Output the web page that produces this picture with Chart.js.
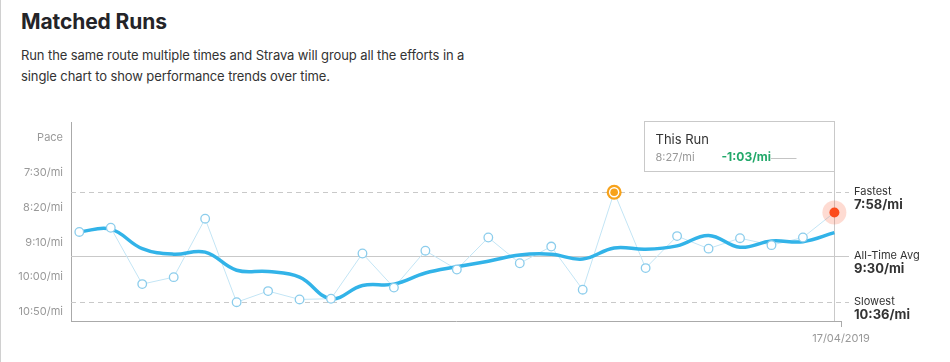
<!DOCTYPE html>
<html>
<head>
<meta charset="utf-8">
<script src="https://cdn.jsdelivr.net/npm/chart.js@4"></script>
<style>
  html, body { margin: 0; padding: 0; background: #fff; }
  body { width: 950px; height: 362px; position: relative; overflow: hidden; border-left: 1px solid #d0d0d0; box-sizing: border-box; font-family: Inter, "Noto Sans", sans-serif; }
  h1 { position: absolute; left: 20px; top: 9px; margin: 0; font-size: 21px; font-weight: 700; color: #242428; letter-spacing: -0.1px; }
  p.desc { position: absolute; left: 20px; top: 45px; margin: 0; font-size: 13px; letter-spacing: -0.1px; line-height: 20.5px; color: #333; }
  canvas { position: absolute; left: 0; top: 0; }
</style>
</head>
<body>
<h1>Matched Runs</h1>
<p class="desc">Run the same route multiple times and Strava will group all the efforts in a<br>single chart to show performance trends over time.</p>
<canvas id="myChart" width="950" height="362"></canvas>
<script>
// pace per run, seconds per mile (oldest -> newest)
const paces = [535, 529, 610, 600, 516, 636, 620, 632, 631, 566, 615, 562, 589, 543, 580, 556, 618, 478, 587, 541, 559, 544, 554, 543, 507];
// smoothed trend line
const trend = [535, 531, 559, 567, 564, 590, 592, 600, 631, 612, 610, 594, 585, 577, 568, 567, 574, 558, 560, 555, 540, 557, 548, 549, 536];
const yTicks = [400, 450, 500, 550, 600, 650];
const lastDate = '17/04/2019';
const avgPace = 570;
const fastest = 478;
const slowest = 636;
const thisRunIndex = 24;
const fastestIndex = 17;

function fmt(s) {
  s = Math.round(Math.abs(s));
  const m = Math.floor(s / 60);
  const r = s % 60;
  return m + ':' + (r < 10 ? '0' : '') + r + '/mi';
}

const xy = arr => arr.map((v, i) => ({x: i, y: v}));

// reference lines, labels, special markers, "This Run" box
const overlay = {
  id: 'overlay',
  beforeDatasetsDraw(chart) {
    const {ctx, chartArea, scales} = chart;
    const y = scales.y;
    const lineEnd = chartArea.right + 8;
    ctx.save();
    ctx.lineWidth = 1;
    ctx.strokeStyle = '#c9c9c9';
    [[fastest, true], [avgPace, false], [slowest, true]].forEach(([v, dashed]) => {
      const py = Math.round(y.getPixelForValue(v)) + 0.5;
      ctx.setLineDash(dashed ? [5, 4] : []);
      ctx.beginPath();
      ctx.moveTo(chartArea.left, py);
      ctx.lineTo(lineEnd, py);
      ctx.stroke();
    });
    ctx.setLineDash([]);
    // vertical line from box to axis at this run
    const p = chart.getDatasetMeta(0).data[thisRunIndex];
    const vx = Math.round(p.x) + 0.5;
    ctx.beginPath();
    ctx.moveTo(vx, chartArea.top);
    ctx.lineTo(vx, chartArea.bottom);
    ctx.stroke();

    // right side labels
    ctx.textAlign = 'left';
    ctx.textBaseline = 'middle';
    [['Fastest', fastest], ['All-Time Avg', avgPace], ['Slowest', slowest]].forEach(([name, v]) => {
      const py = y.getPixelForValue(v);
      ctx.fillStyle = '#333';
      ctx.font = '11px Inter, "Noto Sans", sans-serif';
      ctx.fillText(name, lineEnd + 5, py - 1);
      ctx.font = 'bold 13px Inter, "Noto Sans", sans-serif';
      ctx.fillText(fmt(v), lineEnd + 5, py + 13);
    });
    ctx.restore();
  },
  afterDatasetsDraw(chart) {
    const {ctx, chartArea} = chart;
    const meta = chart.getDatasetMeta(0);
    ctx.save();
    // fastest marker
    const f = meta.data[fastestIndex];
    ctx.fillStyle = '#f7a21b';
    ctx.beginPath(); ctx.arc(f.x, f.y, 7.5, 0, Math.PI * 2); ctx.fill();
    ctx.fillStyle = '#fff';
    ctx.beginPath(); ctx.arc(f.x, f.y, 5.2, 0, Math.PI * 2); ctx.fill();
    ctx.fillStyle = '#f7a21b';
    ctx.beginPath(); ctx.arc(f.x, f.y, 3.8, 0, Math.PI * 2); ctx.fill();
    // this run marker
    const r = meta.data[thisRunIndex];
    ctx.fillStyle = 'rgba(252, 90, 50, 0.22)';
    ctx.beginPath(); ctx.arc(r.x, r.y, 12, 0, Math.PI * 2); ctx.fill();
    ctx.fillStyle = '#fc4c1c';
    ctx.beginPath(); ctx.arc(r.x, r.y, 5, 0, Math.PI * 2); ctx.fill();

    // "This Run" box
    const bx = Math.round(r.x) + 0.5, bw = 190, bh = 50;
    const left = bx - bw, top = chartArea.top - 0.5;
    ctx.fillStyle = '#fff';
    ctx.fillRect(left, top, bw, bh);
    ctx.strokeStyle = '#c9c9c9';
    ctx.lineWidth = 1;
    ctx.strokeRect(left, top, bw, bh);
    ctx.textAlign = 'left';
    ctx.textBaseline = 'middle';
    ctx.fillStyle = '#333';
    ctx.font = '13px Inter, "Noto Sans", sans-serif';
    ctx.fillText('This Run', left + 11, top + 19);
    ctx.fillStyle = '#999';
    ctx.font = '11px Inter, "Noto Sans", sans-serif';
    ctx.fillText(fmt(paces[thisRunIndex]), left + 11, top + 36);
    const diff = paces[thisRunIndex] - avgPace;
    const diffTxt = (diff < 0 ? '-' : '+') + fmt(diff);
    ctx.fillStyle = '#22a86a';
    ctx.font = 'bold 12px Inter, "Noto Sans", sans-serif';
    ctx.fillText(diffTxt, left + 77, top + 36);
    const tw = ctx.measureText(diffTxt).width;
    ctx.strokeStyle = '#c4c4c4';
    ctx.beginPath();
    ctx.moveTo(left + 77 + tw, Math.round(top + 36) + 0.5);
    ctx.lineTo(left + 152, Math.round(top + 36) + 0.5);
    ctx.stroke();
    ctx.restore();
  }
};

const specialIdx = [fastestIndex, thisRunIndex];

const data = {
  datasets: [
    {
      label: 'Runs',
      data: xy(paces),
      showLine: false,
      pointRadius: paces.map((v, i) => specialIdx.includes(i) ? 0 : 4.3),
      pointBackgroundColor: '#fff',
      pointBorderColor: '#8ccdec',
      pointBorderWidth: 1.3,
      order: 0
    },
    {
      label: 'Trend',
      data: xy(trend),
      borderColor: '#32b3e8',
      borderWidth: 3.5,
      tension: 0.4,
      pointRadius: 0,
      fill: false,
      order: 1
    },
    {
      label: 'Runs line',
      data: xy(paces),
      borderColor: '#c3e5f5',
      borderWidth: 1,
      tension: 0,
      pointRadius: 0,
      fill: false,
      order: 2
    }
  ]
};

const config = {
  type: 'line',
  data: data,
  options: {
    responsive: false,
    animation: false,
    devicePixelRatio: 1,
    layout: { padding: { left: 0, right: 110, top: 122, bottom: 0 } },
    plugins: {
      legend: { display: false },
      tooltip: { enabled: false }
    },
    scales: {
      x: {
        type: 'linear',
        min: -0.264,
        max: 24.21,
        afterBuildTicks: s => { s.ticks = [{value: s.max}]; },
        afterFit: s => { s.height = 41; },
        grid: { drawOnChartArea: false, drawTicks: true, tickLength: 6, color: '#aaa' },
        border: { color: '#aaa' },
        ticks: {
          padding: 5,
          color: '#999',
          font: { family: 'Inter, "Noto Sans", sans-serif', size: 11 },
          callback: () => lastDate
        }
      },
      y: {
        reverse: true,
        min: 377,
        max: 663,
        afterBuildTicks: s => { s.ticks = yTicks.map(v => ({value: v})); },
        afterFit: s => { s.width = 70; },
        grid: { display: false, drawTicks: false },
        border: { color: '#aaa' },
        ticks: {
          padding: 8,
          color: '#999',
          font: { family: 'Inter, "Noto Sans", sans-serif', size: 11 },
          callback: v => v === 400 ? 'Pace' : fmt(v)
        }
      }
    }
  },
  plugins: [overlay]
};

const myChart = new Chart(document.getElementById('myChart'), config);
</script>
</body>
</html>
